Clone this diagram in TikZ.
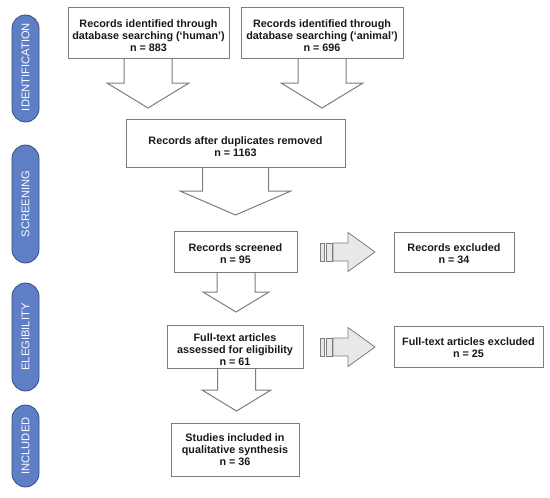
\documentclass[tikz,border=0pt]{standalone}
\usepackage{fontspec}
\setmainfont{Liberation Sans}
\usetikzlibrary{calc}
\definecolor{linegray}{RGB}{125,125,125}
\definecolor{pillfill}{RGB}{94,127,198}
\definecolor{pilldraw}{RGB}{58,78,130}
\definecolor{arrowfill}{RGB}{232,232,232}
\definecolor{txt}{RGB}{25,25,25}
\tikzset{
  box/.style={draw=linegray, line width=1pt, fill=white, rectangle, inner sep=0pt},
  boxtext/.style={align=center, font=\fontsize{10.8}{12}\selectfont\bfseries, text=txt, inner sep=0pt},
  pill/.style={draw=pilldraw, line width=0.8pt, fill=pillfill, rounded corners=13.5pt,
    minimum width=27pt, inner sep=0pt},
  pilltext/.style={rotate=90, text=white, font=\fontsize{11.2}{13}\selectfont},
  blockarrow/.style={draw=linegray, line width=1pt, fill=white, line join=miter},
  sidearrow/.style={draw=linegray, line width=0.8pt, fill=arrowfill},
  pics/downarr/.style n args={4}{code={
    % #1 stem half width, #2 head half width, #3 stem length, #4 head length
    \path[blockarrow] (-#1,0) -- (-#1,#3) -- (-#2,#3) -- (0,#3+#4) -- (#2,#3) -- (#1,#3) -- (#1,0);
  }},
  pics/rightarr/.style={code={
    \path[sidearrow] (0,-9) rectangle (4,9);
    \path[sidearrow] (6,-9) rectangle (12,9);
    \path[sidearrow] (13,-9) -- (28,-9) -- (28,-19.5) -- (55,0) -- (28,19.5) -- (28,9) -- (13,9) -- cycle;
  }}
}
\begin{document}
\begin{tikzpicture}[x=1pt,y=-1pt]
\useasboundingbox (0,0) rectangle (550,498);
\fill[white] (0,0) rectangle (550,498);

% side pills
\draw[pill] (12,15) rectangle (39,122);
\node[pilltext] (lid) at (25.5,67) {IDENTIFICATION};
\draw[pill] (12,145) rectangle (39,263);
\node[pilltext] (lsc) at (25.5,204) {SCREENING};
\draw[pill] (12,283) rectangle (39,391);
\node[pilltext] (lel) at (25.5,337) {ELEGIBILITY};
\draw[pill] (12,405) rectangle (39,487);
\node[pilltext] (lin) at (25.5,446) {INCLUDED};

% down arrows (drawn first; boxes cover the open top)
\pic at (148,58) {downarr={24}{41}{25}{25}};
\pic at (322,58) {downarr={24}{41}{25}{25}};
\pic at (235.5,167) {downarr={33}{55.5}{24}{24}};
\pic at (236,272) {downarr={19}{33}{20}{20}};
\pic at (236.5,368) {downarr={19}{34.5}{22}{21}};

% boxes
\node[box, minimum width=161pt, minimum height=51pt] (b1) at (148.5,32.5) {};
\node[boxtext] (b1t) at ($(b1.center)+(0,3)$)
  {Records identified through\\database searching (‘human’)\\n = 883};
\node[box, minimum width=162pt, minimum height=51pt] (b2) at (322,32.5) {};
\node[boxtext] (b2t) at ($(b2.center)+(0,3)$)
  {Records identified through\\database searching (‘animal’)\\n = 696};
\node[box, minimum width=219pt, minimum height=48pt] (b3) at (235.5,143) {};
\node[boxtext] (b3t) at ($(b3.center)+(0,3.5)$)
  {Records after duplicates removed\\n = 1163};
\node[box, minimum width=123pt, minimum height=41pt] (b4) at (235.5,251.5) {};
\node[boxtext] (b4t) at ($(b4.center)+(0,2)$)
  {Records screened\\n = 95};
\node[box, minimum width=136pt, minimum height=43pt] (b5) at (235,346.5) {};
\node[boxtext] (b5t) at ($(b5.center)+(0,3)$)
  {Full-text articles\\assessed for eligibility\\n = 61};
\node[box, minimum width=128pt, minimum height=53pt] (b6) at (235,449.5) {};
\node[boxtext] (b6t) at ($(b6.center)+(0,0.5)$)
  {Studies included in\\qualitative synthesis\\n = 36};
\node[box, minimum width=120pt, minimum height=40pt] (r1) at (454,252) {};
\node[boxtext] (r1t) at ($(r1.center)+(0,1.5)$)
  {Records excluded\\n = 34};
\node[box, minimum width=149pt, minimum height=41pt] (r2) at (468.5,346.5) {};
\node[boxtext] (r2t) at ($(r2.center)+(0,1)$)
  {Full-text articles excluded\\n = 25};

% side arrows
\pic at (320,252) {rightarr};
\pic at (320,347) {rightarr};
\end{tikzpicture}
\end{document}
